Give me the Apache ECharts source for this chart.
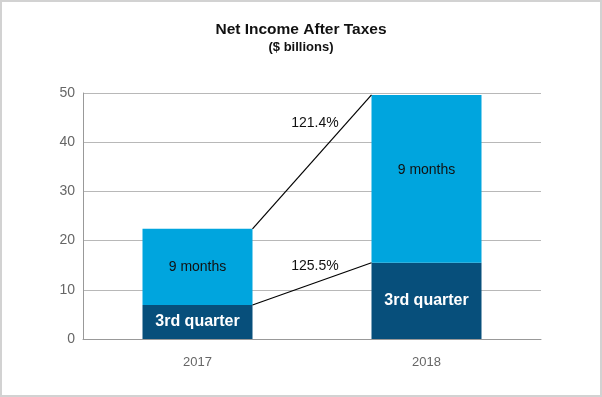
<!DOCTYPE html>
<html>
<head>
<meta charset="utf-8">
<script src="https://cdn.jsdelivr.net/npm/echarts@6/dist/echarts.min.js"></script>
<style>
  html, body { margin: 0; padding: 0; background: #fff; }
  #chart { width: 602px; height: 397px; }
</style>
</head>
<body>
<div id="chart"></div>
<script>
// 数据
const categories = ['2017', '2018'];
const thirdQuarter = [6.9, 15.5];   // 3rd quarter
const nineMonths = [22.4, 49.6];    // 9 months (total)
const growthLabels = ['121.4%', '125.5%'];
const yTicks = [0, 10, 20, 30, 40, 50];

const BAR_WIDTH = 110;
const labelDy = [28, 3];        // 增长率标签的竖直偏移
const nineLabelDy = [0, -9];    // "9 months" 标签的竖直偏移

// 堆叠部分 = 9个月 - 第三季度
const remainder = nineMonths.map((v, i) => +(v - thirdQuarter[i]).toFixed(1));

const myChart = echarts.init(document.getElementById('chart'), null, {
  width: 602,
  height: 397
});

const option = {
  animation: false,
  textStyle: { fontFamily: 'Liberation Sans, Arial, sans-serif' },
  graphic: [{
    type: 'rect',
    shape: { x: 1, y: 1, width: 600, height: 395 },
    style: { fill: 'none', stroke: '#d2d2d2', lineWidth: 2 },
    silent: true
  }],
  title: {
    text: 'Net Income After Taxes',
    subtext: '($ billions)',
    left: 'center',
    top: 17,
    itemGap: 3,
    textStyle: { fontSize: 15.5, fontWeight: 'bold', color: '#111' },
    subtextStyle: { fontSize: 13, fontWeight: 'bold', color: '#111' }
  },
  grid: { left: 83, right: 61, top: 93, bottom: 58 },
  xAxis: {
    type: 'category',
    data: categories,
    axisLine: { lineStyle: { color: '#999' } },
    axisTick: { inside: true, length: 5, lineStyle: { color: '#999' } },
    axisLabel: { color: '#666', fontSize: 13, margin: 17 }
  },
  yAxis: {
    type: 'value',
    min: yTicks[0],
    max: yTicks[yTicks.length - 1],
    interval: yTicks[1] - yTicks[0],
    axisLine: { show: true, lineStyle: { color: '#999' } },
    axisTick: { show: false },
    axisLabel: { color: '#666', fontSize: 14, margin: 8 },
    splitLine: { lineStyle: { color: '#b8b8b8' } }
  },
  series: [
    {
      name: '3rd quarter',
      type: 'bar',
      stack: 'total',
      barWidth: BAR_WIDTH,
      data: thirdQuarter,
      itemStyle: { color: '#074F7B' },
      label: {
        show: true,
        position: 'inside',
        formatter: '3rd quarter',
        color: '#fff',
        fontSize: 16,
        fontWeight: 'bold'
      }
    },
    {
      name: '9 months',
      type: 'bar',
      stack: 'total',
      barWidth: BAR_WIDTH,
      data: remainder.map((v, i) => ({
        value: v,
        label: { offset: [0, nineLabelDy[i]] }
      })),
      itemStyle: { color: '#00A5DE' },
      label: {
        show: true,
        position: 'inside',
        formatter: '9 months',
        color: '#111',
        fontSize: 14
      }
    },
    {
      // 连接线 + 增长率
      type: 'custom',
      coordinateSystem: 'cartesian2d',
      encode: { x: [0, 2], y: [1, 3] },
      data: [
        [0, nineMonths[0], 1, nineMonths[1]],
        [0, thirdQuarter[0], 1, thirdQuarter[1]]
      ],
      z: 5,
      renderItem(params, api) {
        const a = api.coord([api.value(0), api.value(1)]);
        const b = api.coord([api.value(2), api.value(3)]);
        const half = BAR_WIDTH / 2;
        const x1 = a[0] + half, x2 = b[0] - half;
        return {
          type: 'group',
          children: [
            {
              type: 'line',
              shape: { x1: x1, y1: a[1], x2: x2, y2: b[1] },
              style: { stroke: '#000', lineWidth: 1.2 }
            },
            {
              type: 'text',
              style: {
                text: growthLabels[params.dataIndex],
                x: (x1 + x2) / 2 + 3,
                y: b[1] + labelDy[params.dataIndex],
                align: 'center',
                verticalAlign: 'middle',
                fill: '#111',
                fontSize: 14,
                fontFamily: 'Liberation Sans, Arial, sans-serif'
              }
            }
          ]
        };
      }
    }
  ]
};

myChart.setOption(option);
</script>
</body>
</html>
